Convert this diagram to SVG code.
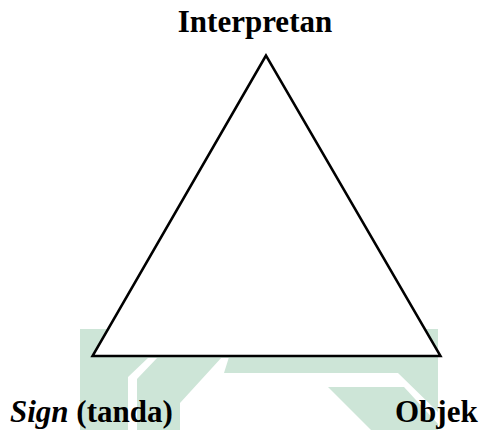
<svg xmlns="http://www.w3.org/2000/svg" width="481" height="430" viewBox="0 0 481 430">
  <style>
    .wm { fill: #cde5d7; stroke: none; }
    .lbl { font-family: "Liberation Serif", "Times New Roman", serif; font-size: 31px; font-weight: bold; fill: #000; }
    .edge { fill: #fff; stroke: #000; stroke-width: 2.5; stroke-linejoin: miter; stroke-miterlimit: 10; }
  </style>
  <rect x="0" y="0" width="481" height="430" fill="#fff"/>
  <g id="watermark">
    <rect class="wm" x="80" y="329" width="358" height="29"/>
    <polygon class="wm" points="80,357 149,357 128,377 128,430 80,430"/>
    <polygon class="wm" points="158,357 222,357 180,403 180,430 137,430 137,379"/>
    <polygon class="wm" points="229,357 438,357 438,412 398,373 224,373"/>
    <polygon class="wm" points="328,387 404,387 438,424 438,430 371,430"/>
  </g>
  <g id="connectors">
    <polygon class="edge" points="266,55.5 92.5,356 440.5,356"/>
  </g>
  <g id="node-interpretan">
    <text class="lbl" x="255" y="32" text-anchor="middle">Interpretan</text>
  </g>
  <g id="node-sign">
    <text class="lbl" x="10" y="422"><tspan font-style="italic">Sign</tspan> (tanda)</text>
  </g>
  <g id="node-objek">
    <text class="lbl" x="395" y="422">Objek</text>
  </g>
</svg>
